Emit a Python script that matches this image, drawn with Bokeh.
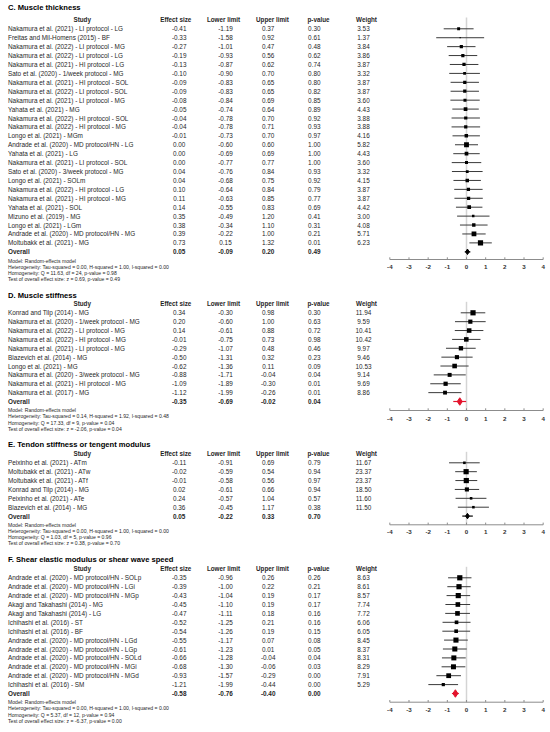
from bokeh.plotting import figure
from bokeh.models import Range1d, ColumnDataSource
from bokeh.embed import file_html
from bokeh.resources import INLINE
from bokeh.core.properties import value

# ---------------- data ----------------
c_studies = ["Nakamura et al. (2021) - LI protocol - LG", "Freitas and Mil-Homens (2015) - BF",
             "Nakamura et al. (2022) - LI protocol - MG", "Nakamura et al. (2022) - LI protocol - LG",
             "Nakamura et al. (2021) - HI protocol - LG", "Sato et al. (2020) - 1/week protocol - MG",
             "Nakamura et al. (2021) - HI protocol - SOL", "Nakamura et al. (2022) - LI protocol - SOL",
             "Nakamura et al. (2021) - LI protocol - MG", "Yahata et al. (2021) - MG",
             "Nakamura et al. (2022) - HI protocol - SOL", "Nakamura et al. (2022) - HI protocol - MG",
             "Longo et al. (2021) - MGm", "Andrade et al. (2020) - MD protocol/HN - LG",
             "Yahata et al. (2021) - LG", "Nakamura et al. (2021) - LI protocol - SOL",
             "Sato et al. (2020) - 3/week protocol - MG", "Longo et al. (2021) - SOLm",
             "Nakamura et al. (2022) - HI protocol - LG", "Nakamura et al. (2021) - HI protocol - MG",
             "Yahata et al. (2021) - SOL", "Mizuno et al. (2019) - MG", "Longo et al. (2021) - LGm",
             "Andrade et al. (2020) - MD protocol/HN - MG", "Moltubakk et al. (2021) - MG"]
c_effect = [-0.41, -0.33, -0.27, -0.19, -0.13, -0.10, -0.09, -0.09, -0.08, -0.05, -0.04, -0.04, -0.01,
            0.00, 0.00, 0.00, 0.04, 0.04, 0.10, 0.11, 0.14, 0.35, 0.38, 0.39, 0.73]
c_lower = [-1.19, -1.58, -1.01, -0.93, -0.87, -0.90, -0.83, -0.83, -0.84, -0.74, -0.78, -0.78, -0.73,
           -0.60, -0.69, -0.77, -0.76, -0.68, -0.64, -0.63, -0.55, -0.49, -0.34, -0.22, 0.15]
c_upper = [0.37, 0.92, 0.47, 0.56, 0.62, 0.70, 0.65, 0.65, 0.69, 0.64, 0.70, 0.71, 0.70,
           0.60, 0.69, 0.77, 0.84, 0.75, 0.84, 0.85, 0.83, 1.20, 1.10, 1.00, 1.32]
c_p = [0.30, 0.61, 0.48, 0.62, 0.74, 0.80, 0.80, 0.82, 0.85, 0.89, 0.92, 0.93, 0.97,
       1.00, 1.00, 1.00, 0.93, 0.92, 0.79, 0.77, 0.69, 0.41, 0.31, 0.21, 0.01]
c_weight = [3.53, 1.37, 3.84, 3.86, 3.87, 3.32, 3.87, 3.87, 3.60, 4.43, 3.88, 3.88, 4.16,
            5.82, 4.43, 3.60, 3.32, 4.15, 3.87, 3.87, 4.42, 3.00, 4.08, 5.71, 6.23]
c_overall = [0.05, -0.09, 0.20, 0.49]
c_notes = ["Model: Random-effects model",
           "Heterogeneity: Tau-squared = 0.00, H-squared = 1.00, I-squared = 0.00",
           "Homogeneity: Q = 11.63, df = 24, p-value = 0.98",
           "Test of overall effect size: z = 0.69, p-value = 0.49"]

d_studies = ["Konrad and Tilp (2014) - MG", "Nakamura et al. (2020) - 1/week protocol - MG",
             "Nakamura et al. (2022) - LI protocol - MG", "Nakamura et al. (2022) - HI protocol - MG",
             "Nakamura et al. (2021) - LI protocol - MG", "Blazevich et al. (2014) - MG",
             "Longo et al. (2021) - MG", "Nakamura et al. (2020) - 3/week protocol - MG",
             "Nakamura et al. (2021) - HI protocol - MG", "Nakamura et al. (2017) - MG"]
d_effect = [0.34, 0.20, 0.14, -0.01, -0.29, -0.50, -0.62, -0.88, -1.09, -1.12]
d_lower = [-0.30, -0.60, -0.61, -0.75, -1.07, -1.31, -1.36, -1.71, -1.89, -1.99]
d_upper = [0.98, 1.00, 0.88, 0.73, 0.48, 0.32, 0.11, -0.04, -0.30, -0.26]
d_p = [0.30, 0.63, 0.72, 0.98, 0.46, 0.23, 0.09, 0.04, 0.01, 0.01]
d_weight = [11.94, 9.59, 10.41, 10.42, 9.97, 9.46, 10.53, 9.14, 9.69, 8.86]
d_overall = [-0.35, -0.69, -0.02, 0.04]
d_notes = ["Model: Random-effects model",
           "Heterogeneity: Tau-squared = 0.14, H-squared = 1.92, I-squared = 0.48",
           "Homogeneity: Q = 17.33, df = 9, p-value = 0.04",
           "Test of overall effect size: z = -2.06, p-value = 0.04"]

e_studies = ["Peixinho et al. (2021) - ATm", "Moltubakk et al. (2021) - ATw", "Moltubakk et al. (2021) - ATf",
             "Konrad and Tilp (2014) - MG", "Peixinho et al. (2021) - ATe", "Blazevich et al. (2014) - MG"]
e_effect = [-0.11, -0.02, -0.01, 0.02, 0.24, 0.36]
e_lower = [-0.91, -0.59, -0.58, -0.61, -0.57, -0.45]
e_upper = [0.69, 0.54, 0.56, 0.66, 1.04, 1.17]
e_p = [0.79, 0.94, 0.97, 0.94, 0.57, 0.38]
e_weight = [11.67, 23.37, 23.37, 18.50, 11.60, 11.50]
e_overall = [0.05, -0.22, 0.33, 0.70]
e_notes = ["Model: Random-effects model",
           "Heterogeneity: Tau-squared = 0.00, H-squared = 1.00, I-squared = 0.00",
           "Homogeneity: Q = 1.03, df = 5, p-value = 0.96",
           "Test of overall effect size: z = 0.38, p-value = 0.70"]

f_studies = ["Andrade et al. (2020) - MD protocol/HN - SOLp", "Andrade et al. (2020) - MD protocol/HN - LGi",
             "Andrade et al. (2020) - MD protocol/HN - MGp", "Akagi and Takahashi (2014) - MG",
             "Akagi and Takahashi (2014) - LG", "Ichihashi et al. (2016) - ST", "Ichihashi et al. (2016) - BF",
             "Andrade et al. (2020) - MD protocol/HN - LGd", "Andrade et al. (2020) - MD protocol/HN - LGp",
             "Andrade et al. (2020) - MD protocol/HN - SOLd", "Andrade et al. (2020) - MD protocol/HN - MGi",
             "Andrade et al. (2020) - MD protocol/HN - MGd", "Ichihashi et al. (2016) - SM"]
f_effect = [-0.35, -0.39, -0.43, -0.45, -0.47, -0.52, -0.54, -0.55, -0.61, -0.66, -0.68, -0.93, -1.21]
f_lower = [-0.96, -1.00, -1.04, -1.10, -1.11, -1.25, -1.26, -1.17, -1.23, -1.28, -1.30, -1.57, -1.99]
f_upper = [0.26, 0.22, 0.19, 0.19, 0.18, 0.21, 0.19, 0.07, 0.01, -0.04, -0.06, -0.29, -0.44]
f_p = [0.26, 0.21, 0.17, 0.17, 0.16, 0.16, 0.15, 0.08, 0.05, 0.04, 0.03, 0.00, 0.00]
f_weight = [8.63, 8.61, 8.57, 7.74, 7.72, 6.06, 6.05, 8.45, 8.37, 8.31, 8.29, 7.91, 5.29]
f_overall = [-0.58, -0.76, -0.40, 0.00]
f_notes = ["Model: Random-effects model",
           "Heterogeneity: Tau-squared = 0.00, H-squared = 1.00, I-squared = 0.00",
           "Homogeneity: Q = 5.37, df = 12, p-value = 0.94",
           "Test of overall effect size: z = -6.37, p-value = 0.00"]

headers = ["Study", "Effect size", "Lower limit", "Upper limit", "p-value", "Weight"]
axis_ticks = [-4, -3, -2, -1, 0, 1, 2, 3, 4]

# ---------------- layout (page pixel positions) ----------------
W, H = 548, 730
LEFT, TOP = 0, 0          # Bokeh's page template has no body margin
PX_PER_UNIT = 19.17
ZERO_PX = 466.0


def X(px):
    return (px - ZERO_PX) / PX_PER_UNIT


FONT = value("Liberation Sans")
TXT = "#1f1f1f"

p = figure(width=W, height=H, output_backend="svg", toolbar_location=None,
           x_range=Range1d(X(LEFT), X(LEFT + W)), y_range=Range1d(TOP + H, TOP),
           min_border=0, min_border_left=0, min_border_right=0,
           min_border_top=0, min_border_bottom=0)
p.axis.visible = False
p.grid.visible = False
p.outline_line_color = None
p.background_fill_color = "white"

col_centers = [None, 178.7, 225.0, 267.7, 313.8, 363.0]
head_centers = [81.7, 175.3, 223.0, 272.0, 318.0, 366.0]


def txt(xs, ys, texts, size, align="left", bold=False, color=TXT):
    src = ColumnDataSource(dict(x=xs, y=ys, t=texts))
    p.text(x="x", y="y", text="t", source=src, text_font=FONT, text_font_size=size,
           text_align=align, text_baseline="middle", text_color=color,
           text_font_style="bold" if bold else "normal")


def panel(title, studies, eff, lo, hi, pv, wt, overall, notes, sig,
          title_y, header_y, row0, step, axis_y, label_y):
    n = len(studies)
    ys = [row0 + i * step for i in range(n)]
    oy = row0 + n * step
    # title and headers
    txt([X(7.5)], [title_y], [title], "7.6px", bold=True, color="#000000")
    txt([X(c) for c in head_centers], [header_y] * 6, headers, "6.3px", align="center", bold=True)
    # rows
    txt([X(7.5)] * n, ys, studies, "6.4px")
    cols = [eff, lo, hi, pv, wt]
    for k, vals in enumerate(cols):
        txt([X(col_centers[k + 1])] * n, ys, ["%.2f" % v for v in vals], "6.4px", align="center")
    # overall row
    txt([X(7.5)], [oy], ["Overall"], "6.4px", bold=True)
    txt([X(col_centers[k + 1]) for k in range(4)], [oy] * 4, ["%.2f" % v for v in overall],
        "6.4px", align="center", bold=True)
    # notes
    txt([X(7.5)] * 4, [oy + 8.8 + 6.15 * i for i in range(4)], notes, "5.1px")
    # zero line
    p.segment(x0=[0], x1=[0], y0=[header_y - 2], y1=[axis_y], line_color="#d4d4d4", line_width=1.5)
    # axis
    p.segment(x0=[axis_ticks[0]], x1=[axis_ticks[-1]], y0=[axis_y], y1=[axis_y],
              line_color="#8c8c8c", line_width=1)
    p.segment(x0=axis_ticks, x1=axis_ticks, y0=[axis_y] * len(axis_ticks),
              y1=[axis_y - 2.2] * len(axis_ticks), line_color="#8c8c8c", line_width=1)
    txt(axis_ticks, [label_y] * len(axis_ticks), [str(t) for t in axis_ticks], "6.2px",
        align="center", bold=True, color="#333333")
    # CIs and squares
    p.segment(x0=lo, x1=hi, y0=ys, y1=ys, line_color="#3a3a3a", line_width=1)
    wmax = max(wt)
    sizes = [max(1.2, 5.2 * w / wmax) for w in wt]
    p.scatter(x=eff, y=ys, size=sizes, marker="square", fill_color="#000000", line_color=None)
    # overall
    oc = "#e3132c" if sig else "#000000"
    p.segment(x0=[overall[1]], x1=[overall[2]], y0=[oy], y1=[oy], line_color=oc, line_width=1.2)
    p.scatter(x=[overall[0]], y=[oy], size=7.5 if sig else 5.5, marker="diamond",
              fill_color=oc, line_color=oc)


panel("C. Muscle thickness", c_studies, c_effect, c_lower, c_upper, c_p, c_weight, c_overall, c_notes,
      False, 7.0, 19.0, 28.3, 8.92, 259.0, 266.0)
panel("D. Muscle stiffness", d_studies, d_effect, d_lower, d_upper, d_p, d_weight, d_overall, d_notes,
      True, 294.5, 303.3, 312.3, 8.87, 410.0, 418.0)
panel("E. Tendon stiffness or tengent modulus", e_studies, e_effect, e_lower, e_upper, e_p, e_weight,
      e_overall, e_notes, False, 444.0, 453.3, 462.3, 8.88, 524.3, 531.0)
panel("F. Shear elastic modulus or shear wave speed", f_studies, f_effect, f_lower, f_upper, f_p, f_weight,
      f_overall, f_notes, True, 559.0, 568.3, 577.3, 8.9, 701.7, 709.0)

open("out.html", "w").write(file_html(p, INLINE))
